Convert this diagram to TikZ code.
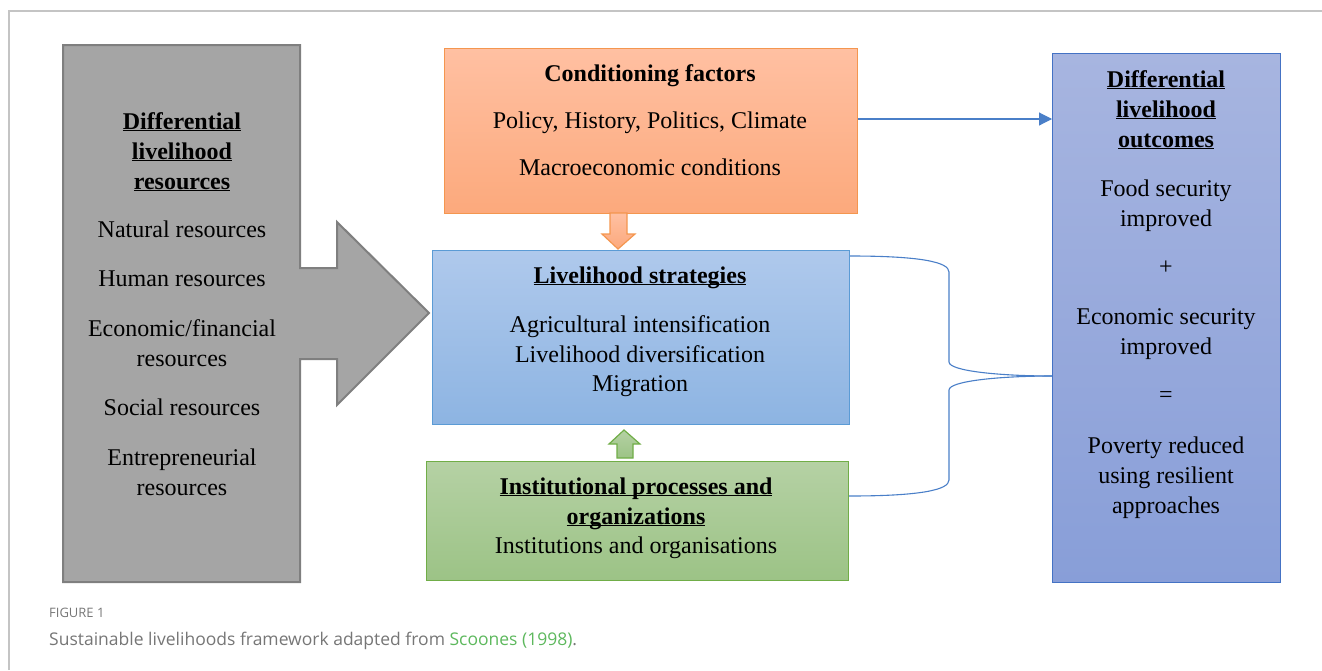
\documentclass[tikz,border=0pt]{standalone}
\usepackage{fontspec}
\setmainfont{Liberation Serif}
\newfontfamily\capfont{Open Sans}
\usetikzlibrary{arrows.meta}
\definecolor{frameg}{HTML}{C4C4C4}
\definecolor{grayfill}{HTML}{A5A5A5}
\definecolor{grayline}{HTML}{7F7F7F}
\definecolor{orline}{HTML}{F4964F}
\definecolor{ortop}{HTML}{FFC0A2}
\definecolor{orbot}{HTML}{FCA97C}
\definecolor{blline}{HTML}{5B9BD5}
\definecolor{bltop}{HTML}{AFC9EC}
\definecolor{blbot}{HTML}{8DB4E2}
\definecolor{grline}{HTML}{70AD47}
\definecolor{grtop}{HTML}{B5D1A4}
\definecolor{grbot}{HTML}{9CC386}
\definecolor{rbline}{HTML}{4472C4}
\definecolor{rbtop}{HTML}{A7B5E0}
\definecolor{rbbot}{HTML}{889ED8}
\definecolor{conn}{HTML}{4A7FC8}
\definecolor{captxt}{HTML}{767676}
\definecolor{capgreen}{HTML}{5DB85D}
\newcommand{\ulbold}[1]{\underline{\smash{\textbf{#1}}}}
\tikzset{
  boxshape/.style={draw, line width=1.2pt, anchor=north west, inner sep=0pt},
  txt/.style={anchor=base, font=\fontsize{24}{28}\selectfont, inner sep=0pt},
  connline/.style={draw=conn, line width=1.1pt},
}
\begin{document}
\begin{tikzpicture}[x=1pt,y=-1pt]
\useasboundingbox (0,0) rectangle (1322,670);
% frame
\draw[frameg, line width=1.2pt] (9,670) -- (9,11) -- (1322,11);
% gray arrow shape
\draw[fill=grayfill, draw=grayline, line width=2pt, line join=miter]
  (63,45) -- (300,45) -- (300,268) -- (337,268) -- (337,222) -- (429,313)
  -- (337,405) -- (337,359) -- (300,359) -- (300,582) -- (63,582) -- cycle;
% boxes
\node[boxshape, draw=orline, top color=ortop, bottom color=orbot,
      minimum width=413pt, minimum height=165pt] (cond) at (444,48) {};
\node[boxshape, draw=blline, top color=bltop, bottom color=blbot,
      minimum width=417pt, minimum height=174pt] (strat) at (432,250) {};
\node[boxshape, draw=grline, top color=grtop, bottom color=grbot,
      minimum width=422pt, minimum height=119pt] (inst) at (426,461) {};
\node[boxshape, draw=rbline, top color=rbtop, bottom color=rbbot,
      minimum width=228pt, minimum height=529pt] (outc) at (1052,53) {};
% block arrows
\draw[draw=orline, top color=ortop, bottom color=orbot, line width=1.2pt]
  (610,213) -- (627,213) -- (627,234) -- (635,234) -- (618,249) -- (602,234) -- (610,234) -- cycle;
\draw[draw=grline, top color=grtop, bottom color=grbot, line width=1.2pt]
  (617,458) -- (633,458) -- (633,444) -- (640,444) -- (624,430) -- (609,444) -- (617,444) -- cycle;
% connector conditioning -> outcomes
\coordinate (condout) at (cond.east |- 0,119);
\draw[connline, -{Triangle[length=13pt,width=13pt]}] (condout) -- (outc.west |- condout);
% brace connector
\coordinate (sA) at (strat.east |- 0,256);
\coordinate (iA) at (inst.east |- 0,496);
\coordinate (mid) at (outc.west |- 0,376);
\draw[connline] (sA) .. controls (920,256) and (949,262) .. (949,272) -- (949,362)
  .. controls (949,371) and (1000,376) .. (mid);
\draw[connline] (iA) .. controls (920,496) and (949,490) .. (949,480) -- (949,390)
  .. controls (949,381) and (1000,376) .. (mid);
% left texts
\node[txt] (l1) at (182,129) {\ulbold{Differential}};
\node[txt] (l2) at (182,159) {\ulbold{livelihood}};
\node[txt] (l3) at (182,189) {\ulbold{resources}};
\node[txt] (l4) at (182,237) {Natural resources};
\node[txt] (l5) at (182,286) {Human resources};
\node[txt] (l6) at (182,336) {Economic/financial};
\node[txt] (l7) at (182,366) {resources};
\node[txt] (l8) at (182,415) {Social resources};
\node[txt] (l9) at (182,465) {Entrepreneurial};
\node[txt] (l10) at (182,495) {resources};
% conditioning texts
\node[txt] (c1) at (650,81) {\textbf{Conditioning factors}};
\node[txt] (c2) at (650,128) {Policy, History, Politics, Climate};
\node[txt] (c3) at (650,175) {Macroeconomic conditions};
% strategies texts
\node[txt] (s1) at (640,283) {\ulbold{Livelihood strategies}};
\node[txt] (s2) at (640,332) {Agricultural intensification};
\node[txt] (s3) at (640,362) {Livelihood diversification};
\node[txt] (s4) at (640,391) {Migration};
% institutional texts
\node[txt] (i1) at (636,494) {\ulbold{Institutional processes and}};
\node[txt] (i2) at (636,524) {\ulbold{organizations}};
\node[txt] (i3) at (636,553) {Institutions and organisations};
% outcomes texts
\node[txt] (o1) at (1166,87) {\ulbold{Differential}};
\node[txt] (o2) at (1166,117) {\ulbold{livelihood}};
\node[txt] (o3) at (1166,147) {\ulbold{outcomes}};
\node[txt] (o4) at (1166,196) {Food security};
\node[txt] (o5) at (1166,226) {improved};
\node[txt] (o6) at (1166,274) {+};
\node[txt] (o7) at (1166,324) {Economic security};
\node[txt] (o8) at (1166,354) {improved};
\node[txt] (o9) at (1166,402) {=};
\node[txt] (o10) at (1166,453) {Poverty reduced};
\node[txt] (o11) at (1166,483) {using resilient};
\node[txt] (o12) at (1166,513) {approaches};
% caption
\node[anchor=base west, inner sep=0pt, text=captxt, font=\capfont\fontsize{13}{14}\selectfont] (figlab) at (49,617) {FIGURE 1};
\node[anchor=base west, inner sep=0pt, text=captxt, font=\capfont\fontsize{17.5}{20}\selectfont] (cap) at (49,645) {Sustainable livelihoods framework adapted from \textcolor{capgreen}{Scoones (1998)}.};
\end{tikzpicture}
\end{document}
